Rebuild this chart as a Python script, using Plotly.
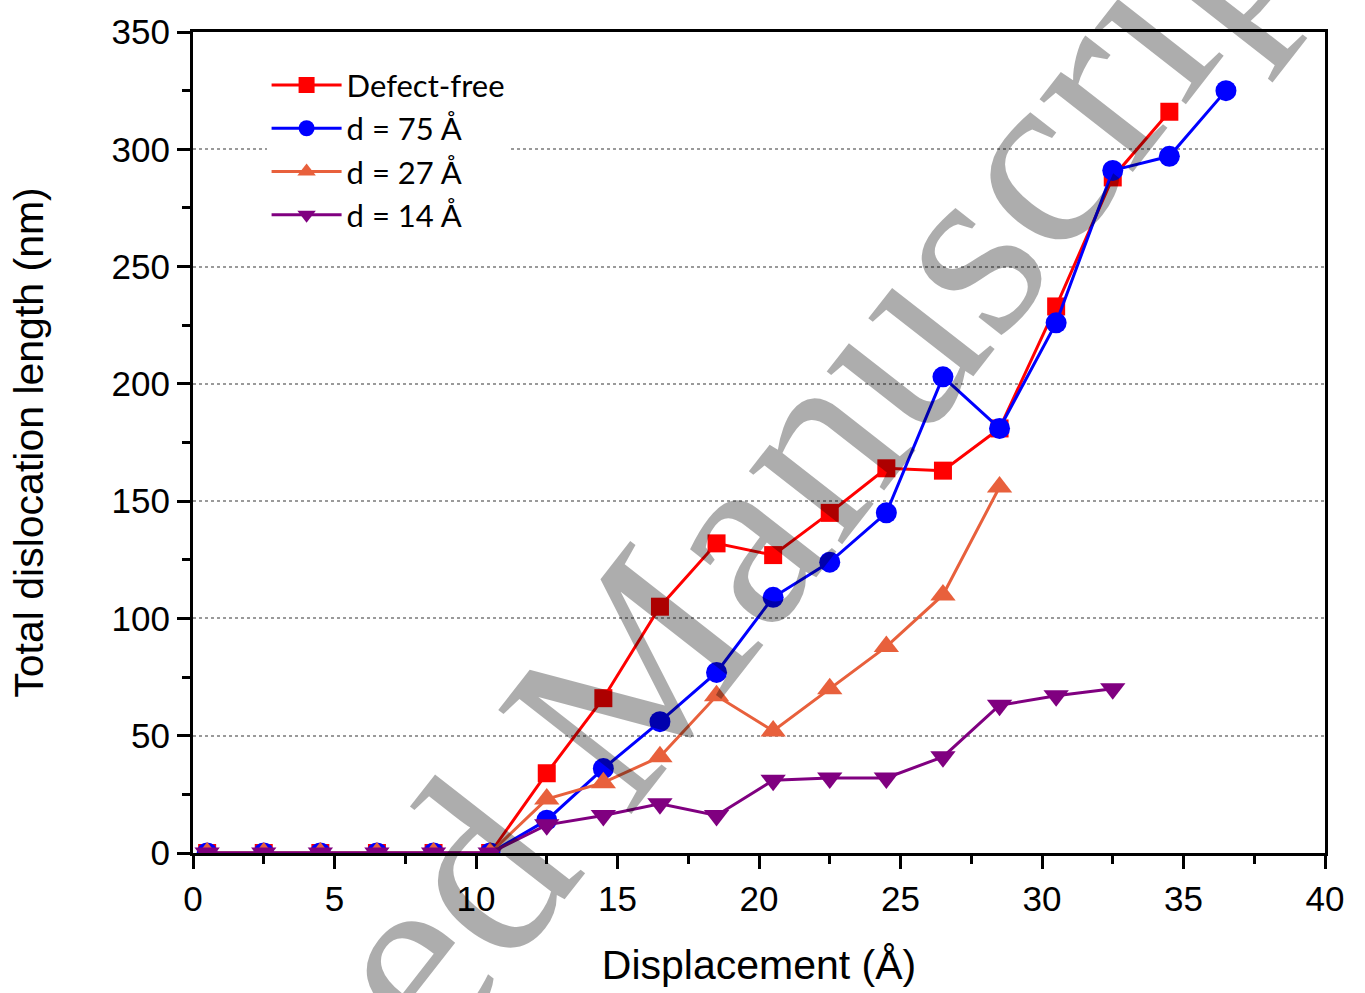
import plotly.graph_objects as go

# Displacement (Å) sample points
displacement = [0.5, 2.5, 4.5, 6.5, 8.5, 10.5, 12.5, 14.5, 16.5, 18.5,
                20.5, 22.5, 24.5, 26.5, 28.5, 30.5, 32.5, 34.5, 36.5]

# Total dislocation length (nm) per configuration
defect_free = [0, 0, 0, 0, 0, 0, 34, 66, 105, 132, 127, 145, 164, 163, 181, 233, 288, 316]
d75 = [0, 0, 0, 0, 0, 0, 14, 36, 56, 77, 109, 124, 145, 203, 181, 226, 291, 297, 325]
d27 = [0, 0, 0, 0, 0, 0, 23, 30, 41, 67, 52, 70, 88, 110, 156]
d14 = [0, 0, 0, 0, 0, 0, 12, 16, 21, 16, 31, 32, 32, 41, 63, 67, 70]

series = [
    ("Defect-free", defect_free, "#ff0000", "square", 18),
    ("d = 75 Å", d75, "#0000ff", "circle", 21),
    ("d = 27 Å", d27, "#e8603c", "triangle-up", 22),
    ("d = 14 Å", d14, "#800080", "triangle-down", 22),
]

fig = go.Figure()
for name, ys, color, symbol, size in series:
    fig.add_trace(go.Scatter(
        x=displacement[:len(ys)], y=ys, name=name,
        mode="lines+markers",
        line=dict(color=color, width=3),
        marker=dict(symbol=symbol, size=size, color=color),
    ))

axis_font = dict(family="Liberation Sans, Arial, sans-serif", size=35, color="black")
title_font = dict(family="Liberation Sans, Arial, sans-serif", size=41, color="black")

fig.update_xaxes(
    range=[0, 40], dtick=5, tick0=0,
    showline=True, linecolor="black", linewidth=3, mirror=True,
    ticks="outside", ticklen=13, tickwidth=3, tickcolor="black",
    minor=dict(dtick=2.5, ticks="outside", ticklen=8, tickwidth=3, tickcolor="black"),
    showgrid=False, zeroline=False,
    tickfont=axis_font,
    title=dict(text="Displacement (Å)", font=title_font, standoff=34),
)
fig.update_yaxes(
    range=[0, 350], dtick=50, tick0=0,
    showline=True, linecolor="black", linewidth=3, mirror=True,
    ticks="outside", ticklen=13, tickwidth=3, tickcolor="black",
    minor=dict(dtick=25, ticks="outside", ticklen=8, tickwidth=3, tickcolor="black"),
    showgrid=True, gridcolor="#9a9a9a", griddash="dot", gridwidth=1.5,
    zeroline=False,
    tickfont=axis_font,
    title=dict(text="Total dislocation length (nm)", font=title_font, standoff=56),
)

fig.update_layout(
    width=1365, height=993,
    margin=dict(l=193, r=40, t=27, b=140),
    plot_bgcolor="white", paper_bgcolor="white",
    showlegend=True,
    legend=dict(
        x=0.065, y=0.968, xanchor="left", yanchor="top",
        bgcolor="white", borderwidth=0,
        font=dict(family="Lato, Carlito, sans-serif", size=31, color="black"),
        itemwidth=70, tracegroupgap=2,
    ),
    annotations=[dict(
        text="Accepted Manuscript", xref="paper", yref="paper",
        x=0.36, y=0.172, xanchor="center", yanchor="middle",
        textangle=-52, showarrow=False,
        font=dict(family="Liberation Serif, Times New Roman, serif", size=258,
                  color="rgba(0,0,0,0.32)"),
    )],
)

fig.write_html("out.html")
